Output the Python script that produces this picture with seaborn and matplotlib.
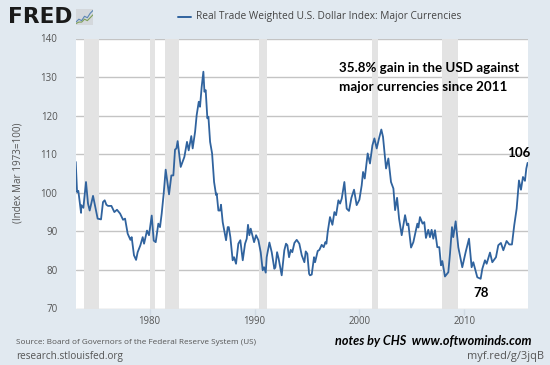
import matplotlib
matplotlib.use("Agg")
import matplotlib.pyplot as plt
import seaborn as sns
import pandas as pd

years = [1972.97,1973.1,1973.22,1973.48,1973.5,1973.7,1973.95,1974.14,1974.3,1974.62,1974.84,1975.06,1975.38,1975.57,1975.73,
 1975.89,1976.05,1976.37,1976.65,1976.9,1977.2,1977.48,1977.67,1977.92,1978.18,1978.3,1978.52,1978.72,1978.87,1979.13,
 1979.35,1979.48,1979.76,1979.95,1980.21,1980.4,1980.59,1980.84,1981.0,1981.16,1981.35,1981.54,1981.86,1982.08,1982.27,
 1982.43,1982.56,1982.68,1982.97,1983.32,1983.57,1983.73,1983.98,1984.11,1984.34,1984.49,1984.69,1984.81,1984.97,1985.13,
 1985.23,1985.35,1985.51,1985.61,1985.77,1985.96,1986.15,1986.34,1986.4,1986.56,1986.72,1986.81,1986.97,1987.29,1987.45,
 1987.55,1987.7,1987.92,1988.05,1988.24,1988.46,1988.65,1988.88,1989.1,1989.26,1989.38,1989.51,1989.64,1989.96,1990.15,
 1990.37,1990.59,1990.78,1990.91,1991.07,1991.16,1991.42,1991.64,1991.89,1991.99,1992.15,1992.3,1992.59,1992.84,1993.0,
 1993.13,1993.29,1993.45,1993.6,1993.8,1994.02,1994.27,1994.5,1994.75,1994.88,1995.03,1995.2,1995.29,1995.45,1995.67,
 1995.77,1996.02,1996.18,1996.4,1996.59,1996.75,1996.85,1996.97,1997.19,1997.42,1997.61,1997.77,1997.99,1998.15,1998.31,
 1998.56,1998.78,1999.0,1999.23,1999.48,1999.73,1999.99,2000.21,2000.34,2000.5,2000.78,2001.0,2001.23,2001.42,2001.64,
 2001.86,2002.08,2002.24,2002.53,2002.75,2003.0,2003.23,2003.39,2003.58,2003.77,2004.02,2004.34,2004.53,2004.65,2004.91,
 2005.13,2005.51,2005.61,2005.76,2006.01,2006.17,2006.33,2006.55,2006.71,2006.87,2007.03,2007.19,2007.41,2007.6,2007.76,
 2007.89,2008.14,2008.46,2008.62,2008.81,2008.93,2009.16,2009.41,2009.79,2010.11,2010.43,2010.68,2010.84,2011.22,2011.54,
 2011.7,2011.95,2012.11,2012.43,2012.65,2013.0,2013.22,2013.47,2013.7,2014.01,2014.27,2014.52,2014.74,2014.97,2015.19,
 2015.38,2015.57,2015.76,2015.89,2016.01]
index_values = [108.0,100.2,100.5,94.8,96.8,96.1,102.8,97.2,95.4,99.2,96.3,93.3,93.1,97.6,98.05,
 96.9,96.6,96.6,95.0,95.6,94.6,93.0,93.3,89.4,87.8,88.5,83.8,82.6,84.6,86.4,
 88.5,86.8,90.2,89.0,94.1,87.6,87.2,92.0,91.1,94.6,99.8,106.0,99.6,104.5,104.5,
 111.2,111.5,113.4,106.7,109.3,113.2,111.0,114.7,111.5,115.8,120.1,123.6,122.3,127.5,131.4,
 126.2,126.6,119.3,119.7,113.2,110.2,102.8,99.4,99.8,95.4,95.4,96.9,92.4,87.7,91.1,
 91.1,88.5,82.5,83.3,81.6,86.8,87.7,82.5,86.8,88.1,91.7,89.0,90.7,87.2,89.0,
 87.7,84.6,79.9,80.7,79.3,83.3,87.1,84.6,80.3,80.7,84.6,82.9,78.6,85.1,86.8,
 86.4,83.3,85.2,84.6,87.0,87.8,86.8,83.8,82.0,84.8,84.2,79.0,78.6,78.8,83.3,
 82.0,84.9,85.2,86.5,85.9,87.2,86.8,89.8,93.7,91.7,95.0,94.2,98.05,97.2,98.5,
 102.8,95.9,95.3,98.7,100.8,96.8,98.2,101.95,105.4,103.7,110.2,107.6,112.3,114.1,111.5,
 114.1,116.4,114.5,106.3,108.9,102.8,101.1,95.5,98.7,93.3,89.0,94.2,91.6,92.0,85.8,
 87.2,92.0,91.0,93.7,92.0,92.4,88.3,90.4,88.5,90.4,88.1,90.3,85.9,85.9,81.2,
 82.3,78.3,79.4,84.2,91.1,88.5,92.6,85.9,80.7,84.6,88.1,80.7,82.0,78.1,77.7,
 80.3,82.5,81.6,84.5,82.0,83.3,86.4,87.0,85.1,87.5,86.6,86.6,91.6,95.9,103.2,
 100.8,104.1,103.1,106.3,107.75]
recession_start = [1973.8,1980.0,1981.5,1990.45,2001.15,2007.85]
recession_end = [1975.15,1980.5,1982.8,1991.15,2001.75,2009.4]
y_ticks = [70,80,90,100,110,120,130,140]
x_ticks = [1980,1990,2000,2010]
icon_x = [0,1,2,3,4,5,6]
icon_blue = [2,4,3,6,5,8,10]
icon_green = [1,2,2,4,3,5,7]

BG = "#E1E9F0"; LINE = "#30639E"; GRID = "#C4C4C4"; TXT = "#555555"
W, H = 550, 365
sns.set_theme(style="white")
plt.rcParams["font.family"] = ["Open Sans", "DejaVu Sans"]
fig = plt.figure(figsize=(5.5, 3.65), dpi=100, facecolor=BG)
ax = fig.add_axes([75.5/W, 1-308.5/H, 452.5/W, 270/H], facecolor="white")
for a, b in zip(recession_start, recession_end):
    ax.axvspan(a, b, color="#E3E3E3", lw=0, zorder=1)
df = pd.DataFrame({"year": years, "index": index_values})
sns.lineplot(data=df, x="year", y="index", ax=ax, color=LINE, lw=1.3, zorder=3, errorbar=None)
ax.set_xlim(1972.95, 2016.05)
ax.set_ylim(70, 140)
ax.set_yticks(y_ticks); ax.set_xticks(x_ticks)
ax.grid(axis="y", color=GRID, lw=1, zorder=2)
ax.set_axisbelow(True)
for s in ax.spines.values():
    s.set_visible(False)
ax.tick_params(axis="y", length=0, labelsize=7.0, labelcolor=TXT, pad=13)
ax.tick_params(axis="x", length=4, width=1, color="#D0DAE4", labelsize=6.9, labelcolor=TXT, pad=1.5, bottom=True)
ax.set_xlabel(""); ax.set_ylabel("")

def t(x, y, s, **k):
    k.setdefault("va", "center")
    return fig.text(x/W, 1-y/H, s, **k)

t(18, 173, "(Index Mar 1973=100)", rotation=90, ha="center", fontsize=7.1, color=TXT)
t(8, 17, "FRED", fontsize=15.6, fontweight="bold", family="DejaVu Sans", color="#1a1a1a")
icon = fig.add_axes([76/W, 1-25/H, 17/W, 16/H], facecolor="#D4D8DC")
sns.lineplot(x=icon_x, y=icon_blue, ax=icon, color="#5B86B5", lw=0.8, errorbar=None)
sns.lineplot(x=icon_x, y=icon_green, ax=icon, color="#7FA05A", lw=0.8, errorbar=None)
icon.set_xlim(0, 6); icon.set_ylim(0, 11); icon.axis("on")
icon.set_xticks([]); icon.set_yticks([]); icon.set_xlabel(""); icon.set_ylabel("")
for s in icon.spines.values():
    s.set_visible(False)
t(196, 17, "Real Trade Weighted U.S. Dollar Index: Major Currencies", fontsize=7.25, color="#444444")
fig.add_artist(plt.Line2D([178/W, 191/W], [1-17/H, 1-17/H], color=LINE, lw=1.4))
t(339, 68, "35.8% gain in the USD against", fontsize=9.6, fontweight="bold", family="Lato", color="black")
t(339, 87, "major currencies since 2011", fontsize=9.6, fontweight="bold", family="Lato", color="black")
t(507, 153, "106", fontsize=9.6, fontweight="bold", family="Lato", color="black")
t(481, 293, "78", fontsize=9.6, fontweight="bold", family="Lato", color="black", ha="center")
t(16, 343, "Source: Board of Governors of the Federal Reserve System (US)", fontsize=5.83, color=TXT)
t(16, 357, "research.stlouisfed.org", fontsize=7.2, color=TXT)
t(544, 357, "myf.red/g/3jqB", fontsize=7.9, color=TXT, ha="right")
t(335, 341, "notes by CHS  www.oftwominds.com", fontsize=9.05, fontweight="bold", style="italic", family="Lato", color="black")
fig.savefig("out.png", dpi=100, facecolor=BG)
